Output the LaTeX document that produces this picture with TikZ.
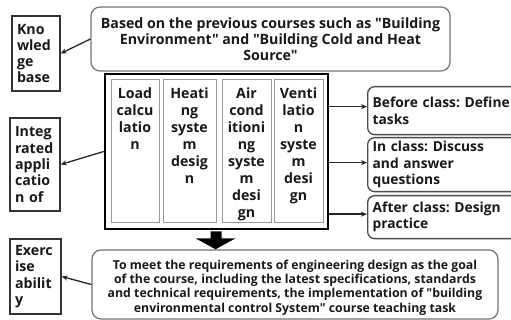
\documentclass[tikz,border=0pt]{standalone}
\usepackage{fontspec}
\setmainfont{Open Sans}[Ligatures=TeXOff]
\usetikzlibrary{arrows.meta}
\begin{document}
\frenchspacing
\begin{tikzpicture}[x=1pt,y=-1pt,
  txt/.style={font=\bfseries\fontsize{14.2}{16.3}\selectfont, text=black!90},
  leftbox/.style={draw=black!80, line width=1.3pt, inner xsep=5pt, inner ysep=0pt, align=left, txt},
  roundbox/.style={draw=black!55, line width=1.2pt, rounded corners=9pt, align=center, txt},
  rightbox/.style={draw=black!70, line width=1.3pt, rounded corners=7pt, align=left, txt, anchor=north west, inner xsep=4pt, inner ysep=0pt, font=\bfseries\fontsize{13.8}{16.3}\selectfont},
  colbox/.style={draw=black!40, line width=1pt, inner sep=0pt, minimum height=143pt, txt, font=\bfseries\fontsize{14.2}{17}\selectfont},
  arr/.style={draw=black!85, line width=1.3pt, -{Stealth[length=6pt,width=5pt]}}
]
\useasboundingbox (0,0) rectangle (511,320);
\clip (0,0) rectangle (511,320);
\fill[white] (0,0) rectangle (511,320);

% left boxes
\node[leftbox, minimum width=48pt, minimum height=75pt, text width=38pt] (kb) at (36,53.5) {Kno\\wled\\ge\\base};
\node[leftbox, minimum width=50pt, minimum height=93pt, text width=40pt] (ia) at (35,164.5) {Integ\\rated\\appli\\catio\\n of};
\node[leftbox, minimum width=51pt, minimum height=75pt, text width=41pt] (ea) at (35.5,276.5) {Exerc\\ise\\abilit\\y};

% top box
\node[roundbox, minimum width=359pt, minimum height=64pt] (top) at (270.5,39)
  {Based on the previous courses such as "Building\\Environment" and "Building Cold and Heat\\Source"};

% big box
\node[draw=black, line width=2.6pt, minimum width=223pt, minimum height=155pt, inner sep=0pt] (big) at (216.5,151.5) {};

% inner columns
\node[colbox, minimum width=48pt] (c1) at (135,151.5) {\parbox[c][143pt][t]{48pt}{\centering\vspace{8pt}Load\\calcu\\latio\\n}};
\node[colbox, minimum width=53pt] (c2) at (189.5,151.5) {\parbox[c][143pt][t]{53pt}{\centering\vspace{8pt}Heati\\ng\\syste\\m\\desig\\n}};
\node[colbox, minimum width=49pt] (c3) at (246.5,151.5) {\parbox[c][143pt][t]{49pt}{\centering\vspace{8pt}Air\\cond\\itioni\\ng\\syste\\m\\desi\\gn}};
\node[colbox, minimum width=49pt] (c4) at (298.5,151.5) {\parbox[c][143pt][t]{49pt}{\centering\vspace{8pt}Venti\\latio\\n\\syste\\m\\desi\\gn}};

% right boxes
\node[rightbox, minimum width=170pt, minimum height=48pt, text width=160pt] (r1) at (367,86) {Before class: Define\\tasks};
\node[rightbox, minimum width=170pt, minimum height=54pt, text width=160pt] (r2) at (367,137) {In class: Discuss\\and answer\\questions};
\node[rightbox, minimum width=170pt, minimum height=43pt, text width=160pt] (r3) at (367,195) {After class: Design\\practice};

% bottom box
\node[roundbox, minimum width=406pt, minimum height=69pt, inner sep=0pt, font=\bfseries\fontsize{12.3}{14.3}\selectfont] (bot) at (295,284.5)
  {\parbox[c][62pt][c]{404pt}{\centering\vspace*{6pt}To meet the requirements of engineering design as the goal\\of the course, including the latest specifications, standards\\and technical requirements, the implementation of "building\\environmental control System" course teaching task}};

% arrows
\draw[arr] (top.west) -- (kb.east);
\draw[arr] (big.west) -- (ia.east);
\draw[arr] (bot.west) -- (ea.east);
\draw[arr] ([yshift=4pt]big.east |- r1.west) -- ([yshift=4pt]r1.west);
\draw[arr] ([yshift=2pt]big.east |- r2.west) -- ([yshift=2pt]r2.west);
\draw[arr] ([yshift=3pt]big.east |- r3.west) -- ([yshift=3pt]r3.west);

% block arrow
\fill[black] ([xshift=-6pt,yshift=-1pt]big.south) -- ([xshift=5pt,yshift=-1pt]big.south)
  -- ([xshift=5pt,yshift=-8pt]big.south) -- ([xshift=19pt,yshift=-8pt]big.south)
  -- ([xshift=-1pt,yshift=-19pt]big.south) -- ([xshift=-21pt,yshift=-8pt]big.south)
  -- ([xshift=-6pt,yshift=-8pt]big.south) -- cycle;
\end{tikzpicture}
\end{document}
